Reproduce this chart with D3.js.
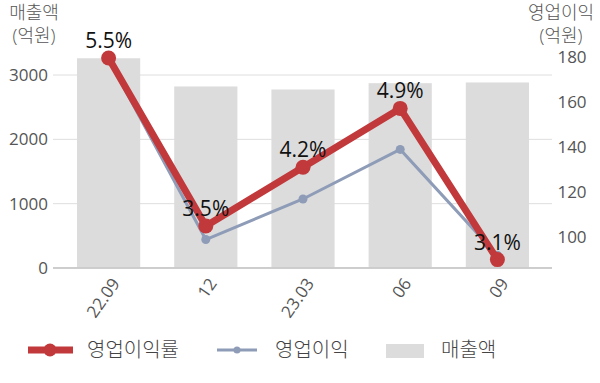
<!DOCTYPE html>
<html><head><meta charset="utf-8">
<script src="https://cdn.jsdelivr.net/npm/d3@7"></script>
<style>
html,body{margin:0;padding:0;background:#fff;}
text{font-family:"Open Sans","Noto Sans CJK KR",sans-serif;}
.lt{font-weight:300;}
</style></head>
<body>
<svg id="c" width="600" height="383"></svg>
<script>
const categories = ["22.09","12","23.03","06","09"];
const sales = [3260, 2822, 2775, 2873, 2884];          // 매출액 (억원)
const opProfit = [179, 99, 117, 139, 92];              // 영업이익 (억원)
const opMargin = [5.5, 3.5, 4.2, 4.9, 3.1];            // 영업이익률 (%)
const leftTicks = [0, 1000, 2000, 3000];
const rightTicks = [100, 120, 140, 160, 180];

const svg = d3.select("#c");
const x = d3.scaleBand().domain(categories).range([60, 546]).paddingInner(0.35).paddingOuter(0.175);
const yL = d3.scaleLinear().domain([0, 3000]).range([268, 75]);
const yR = d3.scaleLinear().domain([100, 180]).range([237.3, 57]);
const yP = d3.scaleLinear().domain([3.5, 5.5]).range([226, 58]);
const cx = d => x(d) + x.bandwidth() / 2;

// gridlines
svg.append("g").selectAll("line").data(leftTicks).join("line")
  .attr("x1", 53).attr("x2", 552)
  .attr("y1", d => yL(d)).attr("y2", d => yL(d))
  .attr("stroke", d => d === 0 ? "#bdbdbd" : "#dedede").attr("stroke-width", 1);

// bars
svg.append("g").selectAll("rect").data(sales).join("rect")
  .attr("x", (d, i) => x(categories[i])).attr("width", x.bandwidth())
  .attr("y", d => yL(d)).attr("height", d => yL(0) - yL(d))
  .attr("fill", "#dcdcdc");
svg.append("line").attr("x1", 53).attr("x2", 552).attr("y1", yL(0)).attr("y2", yL(0))
  .attr("stroke", "#bdbdbd");

// left axis labels
svg.append("g").selectAll("text").data(leftTicks).join("text")
  .attr("x", 48).attr("y", d => yL(d)).attr("dy", "0.35em")
  .attr("text-anchor", "end").attr("font-size", 17).attr("fill", "#555")
  .text(d => d);
// right axis labels
svg.append("g").selectAll("text").data(rightTicks).join("text")
  .attr("x", 572).attr("y", d => yR(d)).attr("dy", "0.35em")
  .attr("text-anchor", "middle").attr("font-size", 17).attr("fill", "#555")
  .text(d => d);

// axis titles
const tl = svg.append("text").attr("class", "lt").attr("font-size", 18).attr("fill", "#555").attr("text-anchor", "middle");
tl.append("tspan").attr("x", 34).attr("y", 19).text("매출액");
tl.append("tspan").attr("x", 34).attr("y", 42).text("(억원)");
const tr = svg.append("text").attr("class", "lt").attr("font-size", 18).attr("fill", "#555").attr("text-anchor", "middle");
tr.append("tspan").attr("x", 561).attr("y", 19).text("영업이익");
tr.append("tspan").attr("x", 561).attr("y", 42).text("(억원)");

// x labels
svg.append("g").selectAll("text").data(categories).join("text")
  .attr("transform", d => `translate(${cx(d) + 7},${280}) rotate(-55)`)
  .attr("text-anchor", "end").attr("dy", "0.35em")
  .attr("font-size", 17).attr("fill", "#555").text(d => d);

// 영업이익 line
const lineR = d3.line().x((d, i) => cx(categories[i])).y(d => yR(d));
svg.append("path").datum(opProfit).attr("d", lineR)
  .attr("fill", "none").attr("stroke", "#8e9cb8").attr("stroke-width", 3);
svg.append("g").selectAll("circle").data(opProfit).join("circle")
  .attr("cx", (d, i) => cx(categories[i])).attr("cy", d => yR(d)).attr("r", 4.5)
  .attr("fill", "#8e9cb8");

// 영업이익률 line
const lineP = d3.line().x((d, i) => cx(categories[i])).y(d => yP(d));
svg.append("path").datum(opMargin).attr("d", lineP)
  .attr("fill", "none").attr("stroke", "#c1393b").attr("stroke-width", 7).attr("stroke-linejoin", "round");
svg.append("g").selectAll("circle").data(opMargin).join("circle")
  .attr("cx", (d, i) => cx(categories[i])).attr("cy", d => yP(d)).attr("r", 7.5)
  .attr("fill", "#c1393b");
svg.append("g").selectAll("text").data(opMargin).join("text")
  .attr("x", (d, i) => cx(categories[i])).attr("y", d => yP(d) - 10)
  .attr("text-anchor", "middle").attr("font-size", 21).attr("fill", "#111")
  .text(d => d.toFixed(1) + "%");

// legend
const lg = svg.append("g");
lg.append("line").attr("x1", 28).attr("x2", 73).attr("y1", 350).attr("y2", 350)
  .attr("stroke", "#c1393b").attr("stroke-width", 7);
lg.append("circle").attr("cx", 50).attr("cy", 350).attr("r", 6.5).attr("fill", "#c1393b");
lg.append("text").attr("class", "lt").attr("x", 87).attr("y", 350).attr("dy", "0.35em").attr("font-size", 20).attr("fill", "#444").text("영업이익률");
lg.append("line").attr("x1", 217).attr("x2", 257).attr("y1", 350).attr("y2", 350)
  .attr("stroke", "#8e9cb8").attr("stroke-width", 3);
lg.append("circle").attr("cx", 237).attr("cy", 350).attr("r", 3.5).attr("fill", "#8e9cb8");
lg.append("text").attr("class", "lt").attr("x", 275).attr("y", 350).attr("dy", "0.35em").attr("font-size", 20).attr("fill", "#444").text("영업이익");
lg.append("rect").attr("x", 386).attr("y", 344).attr("width", 38).attr("height", 14).attr("fill", "#dcdcdc");
lg.append("text").attr("class", "lt").attr("x", 441).attr("y", 350).attr("dy", "0.35em").attr("font-size", 20).attr("fill", "#444").text("매출액");
</script>
</body></html>
